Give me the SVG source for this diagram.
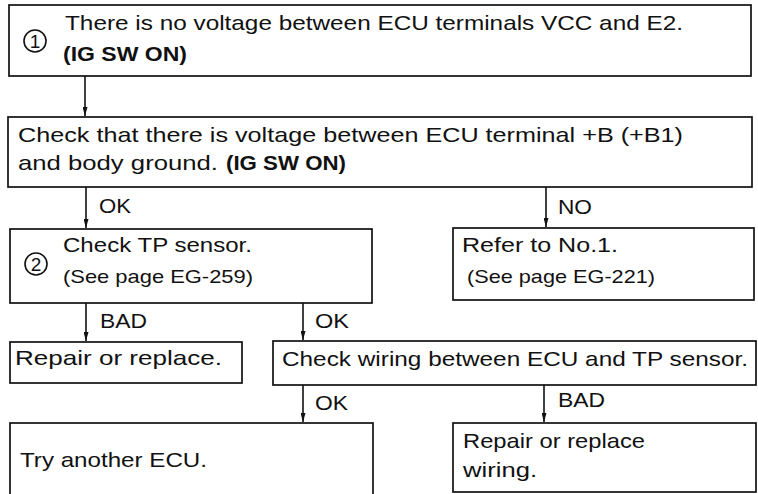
<svg xmlns="http://www.w3.org/2000/svg" width="758" height="494" viewBox="0 0 758 494">
<defs>
<marker id="ah" markerWidth="9" markerHeight="5" refX="9" refY="2.5" orient="auto" markerUnits="userSpaceOnUse" viewBox="0 0 9 5">
<path d="M0,0 L9,2.5 L0,5 Z" fill="#111"/>
</marker>
</defs>
<style>
.box{fill:#fff;stroke:#111;stroke-width:1.7}
.t{font-family:"Liberation Sans",Arial,sans-serif;font-size:21px;fill:#111}
.s{font-family:"Liberation Sans",Arial,sans-serif;font-size:19px;fill:#111}
.d{font-family:"Liberation Sans",Arial,sans-serif;font-size:19px;fill:#111}
.b{font-weight:bold}
.c{fill:none;stroke:#111;stroke-width:1.6}
.ln{stroke:#111;stroke-width:1.6;fill:none}
</style>
<rect width="758" height="494" fill="#fff"/>
<g id="connectors">
<line class="ln" x1="85" y1="76" x2="85" y2="116" marker-end="url(#ah)"/>
<line class="ln" x1="86" y1="187" x2="86" y2="228" marker-end="url(#ah)"/>
<line class="ln" x1="546" y1="187" x2="546" y2="227" marker-end="url(#ah)"/>
<line class="ln" x1="86" y1="303" x2="86" y2="341" marker-end="url(#ah)"/>
<line class="ln" x1="303" y1="303" x2="303" y2="340" marker-end="url(#ah)"/>
<line class="ln" x1="303" y1="385" x2="303" y2="422" marker-end="url(#ah)"/>
<line class="ln" x1="544" y1="385" x2="544" y2="422" marker-end="url(#ah)"/>
<text class="t" x="99" y="213" textLength="32" lengthAdjust="spacingAndGlyphs">OK</text>
<text class="t" x="558" y="214" textLength="34" lengthAdjust="spacingAndGlyphs">NO</text>
<text class="t" x="100" y="328" textLength="47" lengthAdjust="spacingAndGlyphs">BAD</text>
<text class="t" x="315" y="328" textLength="34" lengthAdjust="spacingAndGlyphs">OK</text>
<text class="t" x="315" y="410" textLength="33" lengthAdjust="spacingAndGlyphs">OK</text>
<text class="t" x="558" y="407" textLength="47" lengthAdjust="spacingAndGlyphs">BAD</text>
</g>
<g id="n1">
<rect class="box" x="9" y="5" width="742" height="71"/>
<circle class="c" cx="35" cy="41" r="11"/>
<text class="d" x="35" y="48" text-anchor="middle">1</text>
<text class="t" x="65" y="30" textLength="618" lengthAdjust="spacingAndGlyphs">There is no voltage between ECU terminals VCC and E2.</text>
<text class="t b" x="63" y="61" textLength="124" lengthAdjust="spacingAndGlyphs">(IG SW ON)</text>
</g>
<g id="n2">
<rect class="box" x="8" y="117" width="744" height="70"/>
<text class="t" x="18" y="142" textLength="665" lengthAdjust="spacingAndGlyphs">Check that there is voltage between ECU terminal +B (+B1)</text>
<text class="t" x="18" y="170" textLength="200" lengthAdjust="spacingAndGlyphs">and body ground.</text>
<text class="t b" x="226" y="170" textLength="120" lengthAdjust="spacingAndGlyphs">(IG SW ON)</text>
</g>
<g id="n3">
<rect class="box" x="10" y="229" width="362" height="74"/>
<circle class="c" cx="36" cy="264" r="11"/>
<text class="d" x="36" y="271" text-anchor="middle">2</text>
<text class="t" x="63" y="252" textLength="189" lengthAdjust="spacingAndGlyphs">Check TP sensor.</text>
<text class="s" x="63" y="283" textLength="190" lengthAdjust="spacingAndGlyphs">(See page EG-259)</text>
</g>
<g id="n4">
<rect class="box" x="453" y="228" width="301" height="72"/>
<text class="t" x="462" y="252" textLength="156" lengthAdjust="spacingAndGlyphs">Refer to No.1.</text>
<text class="s" x="467" y="283" textLength="188" lengthAdjust="spacingAndGlyphs">(See page EG-221)</text>
</g>
<g id="n5">
<rect class="box" x="10" y="342" width="232" height="41"/>
<text class="t" x="15" y="365" textLength="207" lengthAdjust="spacingAndGlyphs">Repair or replace.</text>
</g>
<g id="n6">
<rect class="box" x="273" y="341" width="483" height="44"/>
<text class="t" x="282" y="366" textLength="466" lengthAdjust="spacingAndGlyphs">Check wiring between ECU and TP sensor.</text>
</g>
<g id="n7">
<rect class="box" x="10" y="423" width="363" height="75"/>
<text class="t" x="20" y="467" textLength="187" lengthAdjust="spacingAndGlyphs">Try another ECU.</text>
</g>
<g id="n8">
<rect class="box" x="453" y="423" width="303" height="69"/>
<text class="t" x="463" y="448" textLength="182" lengthAdjust="spacingAndGlyphs">Repair or replace</text>
<text class="t" x="463" y="477" textLength="74" lengthAdjust="spacingAndGlyphs">wiring.</text>
</g>
</svg>
